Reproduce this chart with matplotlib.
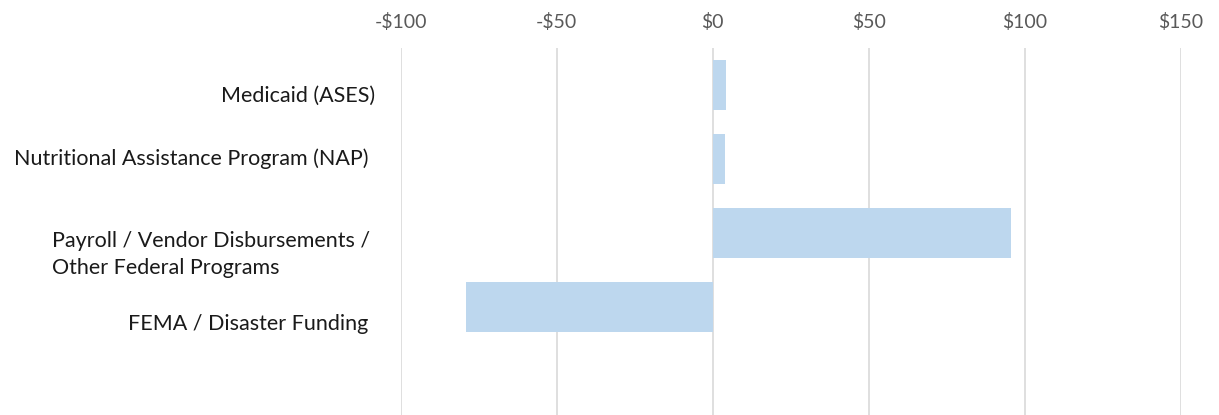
import matplotlib.pyplot as plt
import matplotlib.transforms as mtransforms
from matplotlib.ticker import FuncFormatter

# Chart data
categories = [
    "Medicaid (ASES)",
    "Nutritional Assistance Program (NAP)",
    "Payroll / Vendor Disbursements /\nOther Federal Programs",
    "FEMA / Disaster Funding",
]
values = [4.2, 3.9, 95.7, -79.0]
xticks = [-100, -50, 0, 50, 100, 150]

# label nudges in pixels (dx, dy), the original labels are not centred on bars
label_nudge = [(2, -9), (-4, 2), (-3, -16), (-5, -15)]

plt.rcParams["font.family"] = ["Lato", "DejaVu Sans"]

fig = plt.figure(figsize=(12.19, 4.15), dpi=100)
ax = fig.add_axes([400.7 / 1219, 0, 780 / 1219, 367 / 415])

positions = list(range(len(categories)))
ax.barh(positions, values, height=0.68, color="#BDD7EE", zorder=2)

ax.set_xlim(-100, 150)
ax.set_ylim(4.46, -0.5)
ax.set_xticks(xticks)
ax.xaxis.set_major_formatter(
    FuncFormatter(lambda v, p: "-$%d" % abs(v) if v < 0 else "$%d" % v)
)
ax.xaxis.tick_top()
ax.tick_params(axis="x", length=0, pad=12, labelsize=14, labelcolor="#595959")
ax.tick_params(axis="y", length=0, pad=20, labelsize=15.5, labelcolor="#1a1a1a")
ax.set_yticks(positions)
ax.set_yticklabels(categories, multialignment="left", linespacing=1.45)

for lbl, (dx, dy) in zip(ax.get_yticklabels(), label_nudge):
    offset = mtransforms.ScaledTranslation(dx / 100, dy / 100, fig.dpi_scale_trans)
    lbl.set_transform(lbl.get_transform() + offset)

ax.grid(axis="x", color="#D9D9D9", linewidth=1.2, zorder=0)
for side in ["top", "bottom", "left", "right"]:
    ax.spines[side].set_visible(False)

fig.savefig("out.png", dpi=100)
